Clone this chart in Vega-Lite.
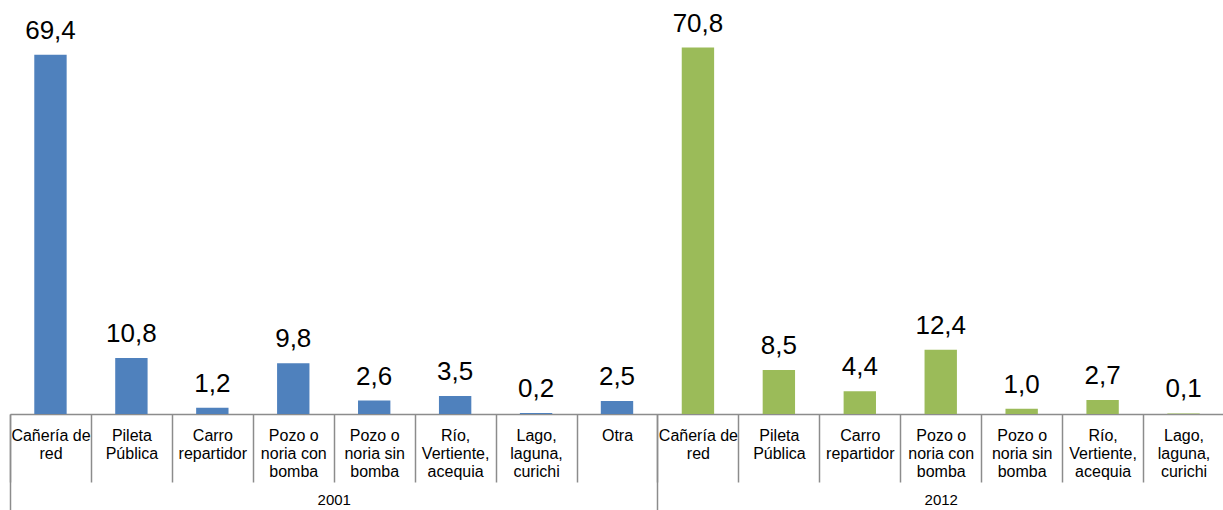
{
  "$schema": "https://vega.github.io/schema/vega-lite/v6.json",
  "width": 1214,
  "height": 414,
  "padding": {"left": 9, "top": 0, "right": 0, "bottom": 0},
  "background": "white",
  "config": {
    "view": {"stroke": null},
    "font": "Liberation Sans",
    "locale": {"number": {"decimal": ",", "thousands": ".", "grouping": [3], "currency": ["", ""]}}
  },
  "layer": [
    {
      "data": {
        "values": [
          {"key": "2001|Cañería de|red", "year": "2001", "value": 69.4},
          {"key": "2001|Pileta|Pública", "year": "2001", "value": 10.8},
          {"key": "2001|Carro|repartidor", "year": "2001", "value": 1.2},
          {"key": "2001|Pozo o|noria con|bomba", "year": "2001", "value": 9.8},
          {"key": "2001|Pozo o|noria sin|bomba", "year": "2001", "value": 2.6},
          {"key": "2001|Río,|Vertiente,|acequia", "year": "2001", "value": 3.5},
          {"key": "2001|Lago,|laguna,|curichi", "year": "2001", "value": 0.2},
          {"key": "2001|Otra", "year": "2001", "value": 2.5},
          {"key": "2012|Cañería de|red", "year": "2012", "value": 70.8},
          {"key": "2012|Pileta|Pública", "year": "2012", "value": 8.5},
          {"key": "2012|Carro|repartidor", "year": "2012", "value": 4.4},
          {"key": "2012|Pozo o|noria con|bomba", "year": "2012", "value": 12.4},
          {"key": "2012|Pozo o|noria sin|bomba", "year": "2012", "value": 1.0},
          {"key": "2012|Río,|Vertiente,|acequia", "year": "2012", "value": 2.7},
          {"key": "2012|Lago,|laguna,|curichi", "year": "2012", "value": 0.1}
        ]
      },
      "encoding": {
        "x": {
          "field": "key",
          "type": "nominal",
          "sort": null,
          "scale": {"paddingInner": 0, "paddingOuter": 0},
          "axis": {
            "title": null,
            "orient": "bottom",
            "tickBand": "extent",
            "tickSize": 68,
            "tickColor": "#8c8c8c",
            "tickWidth": 1.5,
            "domainColor": "#8c8c8c",
            "domainWidth": 1.5,
            "labelExpr": "slice(split(datum.value, '|'), 1)",
            "labelAngle": 0,
            "labelAlign": "center",
            "labelBaseline": "top",
            "labelFontSize": 16,
            "labelLineHeight": 18,
            "labelColor": "#000000",
            "labelPadding": -55,
            "labelOverlap": false,
            "labelLimit": 0
          }
        },
        "y": {
          "field": "value",
          "type": "quantitative",
          "scale": {"domain": [0, 80], "nice": false},
          "axis": null
        }
      },
      "layer": [
        {
          "mark": {"type": "bar", "width": {"band": 0.4}},
          "encoding": {
            "color": {
              "field": "year",
              "type": "nominal",
              "scale": {"domain": ["2001", "2012"], "range": ["#4F81BD", "#9BBB59"]},
              "legend": null
            }
          }
        },
        {
          "mark": {"type": "text", "baseline": "alphabetic", "dy": -16, "fontSize": 26, "color": "#000000"},
          "encoding": {
            "text": {"field": "value", "type": "quantitative", "format": ".1f"}
          }
        }
      ]
    },
    {
      "data": {
        "values": [
          {"year": "2001", "start": 0, "mid": 4},
          {"year": "2012", "start": 8, "mid": 11.5}
        ]
      },
      "mark": {"type": "point", "opacity": 0},
      "encoding": {
        "x": {
          "field": "mid",
          "type": "quantitative",
          "scale": {"domain": [0, 15], "nice": false, "zero": false},
          "axis": {
            "title": null,
            "orient": "bottom",
            "domain": false,
            "grid": false,
            "values": [0, 4, 8, 11.5],
            "tickSize": 96,
            "tickColor": "#8c8c8c",
            "tickWidth": 1.5,
            "tickOpacity": {"condition": {"test": "datum.value == 4 || datum.value == 11.5", "value": 0}, "value": 1},
            "labelExpr": "datum.value == 4 ? '2001' : datum.value == 11.5 ? '2012' : ''",
            "labelFontSize": 15,
            "labelColor": "#000000",
            "labelBaseline": "top",
            "labelPadding": -18,
            "labelFlush": false,
            "labelOverlap": false,
            "labelBound": false
          }
        }
      }
    }
  ],
  "resolve": {"scale": {"x": "independent"}, "axis": {"x": "independent"}}
}
